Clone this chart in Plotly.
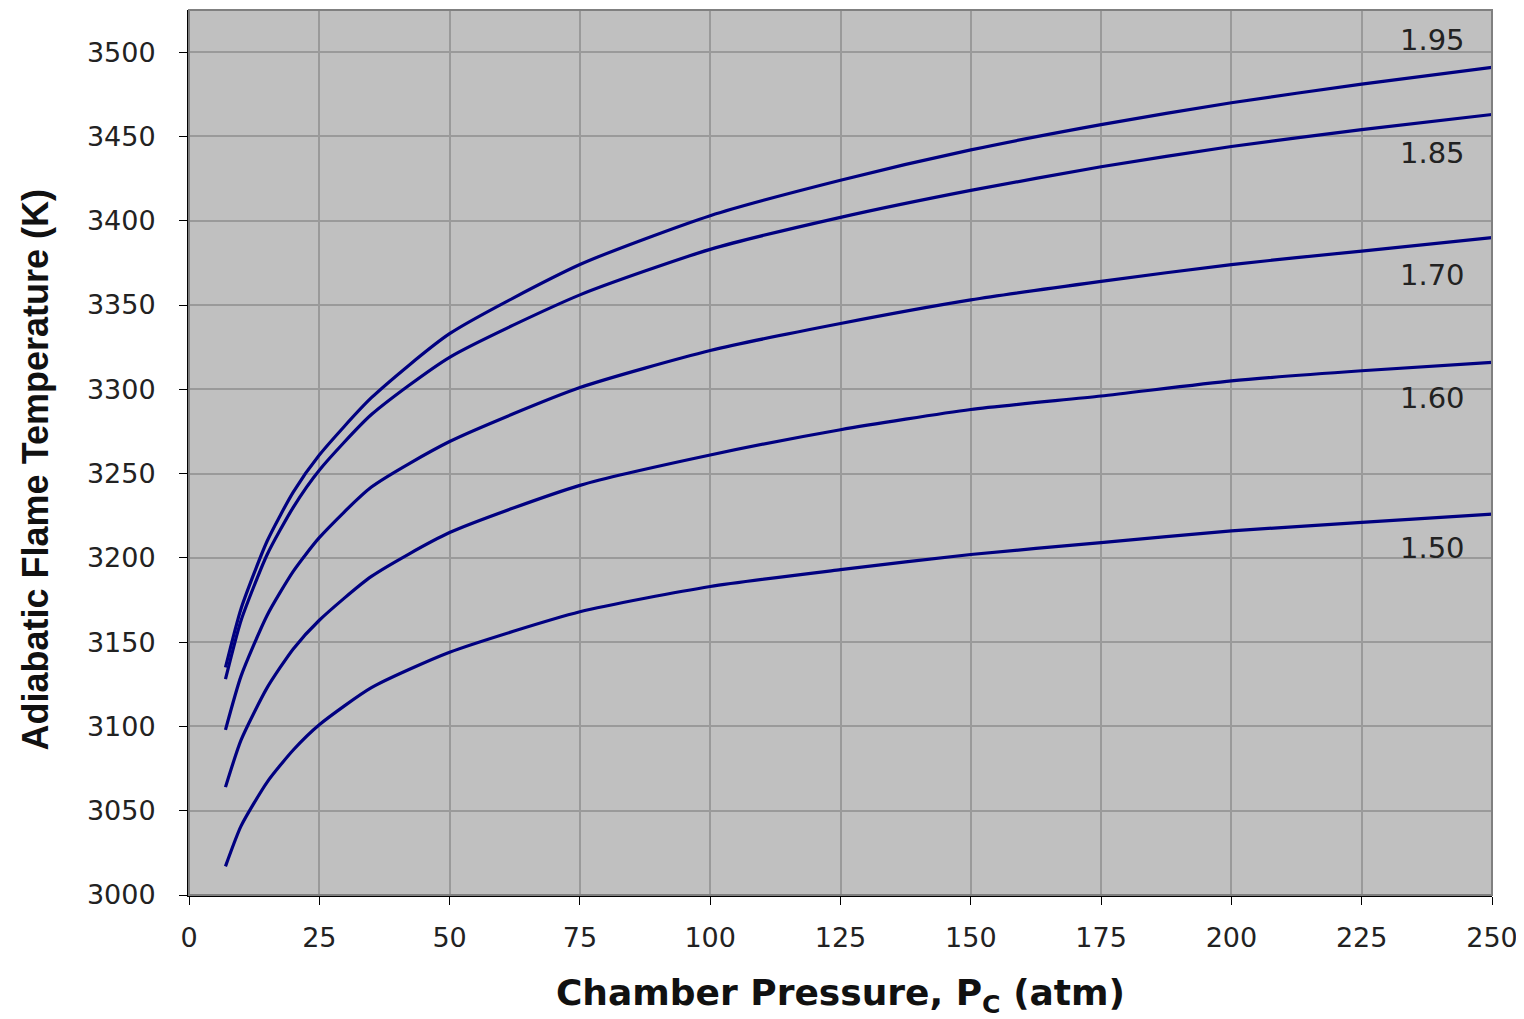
import plotly.graph_objects as go

pressure = [7, 10, 15, 20, 25, 35, 50, 75, 100, 125, 150, 175, 200, 225, 250]
t_195 = [3135, 3170, 3210, 3239, 3261, 3295, 3333, 3374, 3403, 3424, 3442, 3457, 3470, 3481, 3491]
t_185 = [3128, 3163, 3202, 3230, 3252, 3285, 3319, 3356, 3383, 3402, 3418, 3432, 3444, 3454, 3463]
t_170 = [3098, 3130, 3166, 3192, 3212, 3242, 3269, 3301, 3323, 3339, 3353, 3364, 3374, 3382, 3390]
t_160 = [3064, 3092, 3123, 3146, 3163, 3189, 3215, 3243, 3261, 3276, 3288, 3296, 3305, 3311, 3316]
t_150 = [3017, 3041, 3067, 3086, 3101, 3123, 3144, 3168, 3183, 3193, 3202, 3209, 3216, 3221, 3226]

series = [("1.95", t_195), ("1.85", t_185), ("1.70", t_170), ("1.60", t_160), ("1.50", t_150)]
label_x = 238.5
label_y = [3507, 3440, 3368, 3295, 3206]

x_ticks = [0, 25, 50, 75, 100, 125, 150, 175, 200, 225, 250]
y_ticks = [3000, 3050, 3100, 3150, 3200, 3250, 3300, 3350, 3400, 3450, 3500]

fig = go.Figure()
for name, vals in series:
    fig.add_trace(go.Scatter(x=pressure, y=vals, mode="lines", name=name,
                             line=dict(color="#000080", width=3.2, shape="spline", smoothing=0.6),
                             showlegend=False))

for (name, _), ly in zip(series, label_y):
    fig.add_annotation(x=label_x, y=ly, text=name, showarrow=False,
                       font=dict(family="DejaVu Sans", size=29, color="#222222"))

# y-axis title as annotation (slightly below centre, as in the reference)
fig.add_annotation(xref="paper", yref="paper", x=-0.118, y=0.48,
                   text="<b>Adiabatic Flame Temperature (K)</b>", textangle=-90,
                   showarrow=False, xanchor="center", yanchor="middle",
                   font=dict(family="Liberation Sans", size=36, color="#111111"))

fig.add_shape(type="rect", xref="paper", yref="paper", x0=0, y0=0, x1=1, y1=1,
              line=dict(color="#808080", width=2), layer="above")

fig.update_layout(
    width=1516, height=1011,
    margin=dict(l=181, r=32, t=2, b=124),
    paper_bgcolor="white", plot_bgcolor="#C0C0C0",
    font=dict(family="DejaVu Sans", color="#222222"),
)
fig.update_xaxes(range=[0, 250], tickvals=x_ticks, ticks="outside", ticklen=8, tickcolor="black",
                 showline=True, linecolor="black", linewidth=2,
                 showgrid=True, gridcolor="#9A9A9A", gridwidth=2, zeroline=False,
                 tickfont=dict(family="DejaVu Sans", size=27, color="#222222"),
                 ticklabelstandoff=10,
                 title=dict(text="<b>Chamber Pressure, P<sub>C</sub> (atm)</b>",
                            font=dict(family="DejaVu Sans", size=36, color="#111111"), standoff=30))
fig.update_yaxes(range=[3000, 3525], tickvals=y_ticks, ticks="outside", ticklen=8, tickcolor="black",
                 showline=True, linecolor="black", linewidth=2,
                 showgrid=True, gridcolor="#9A9A9A", gridwidth=2, zeroline=False,
                 tickfont=dict(family="DejaVu Sans", size=27, color="#222222"),
                 ticklabelstandoff=18)

fig.write_html("out.html")
